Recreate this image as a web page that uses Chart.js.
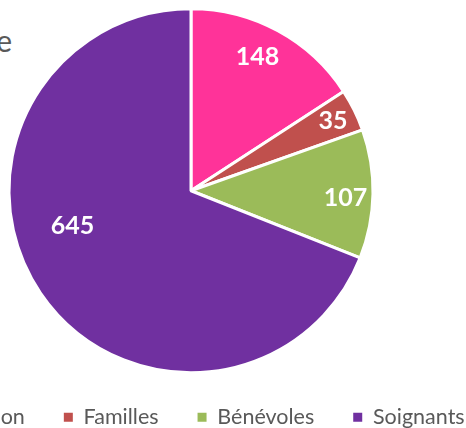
<!DOCTYPE html>
<html>
<head>
<meta charset="utf-8">
<script src="https://cdn.jsdelivr.net/npm/chart.js@4"></script>
<style>
  html, body { margin: 0; padding: 0; background: #fff; overflow: hidden; width: 466px; height: 428px; }
  #wrap { position: absolute; left: -170px; top: 0; width: 722px; height: 438px; }
  #title { position: absolute; right: 454px; top: 22px; font: 30px Lato, sans-serif; color: #595959; white-space: nowrap; }
</style>
</head>
<body>
<div id="title">Répartition par type de personne</div>
<div id="wrap"><canvas id="c" width="722" height="438"></canvas></div>
<script>
const categories = ['Direction', 'Familles', 'Bénévoles', 'Soignants'];
const values = [148, 35, 107, 645];
const colors = ['#FF3399', '#C0504D', '#9BBB59', '#7030A0'];

// label placement (fraction of radius, angle shift in degrees)
const labelPlace = [
  { r: 0.82, da: -2 },
  { r: 0.87, da: 0 },
  { r: 0.85, da: 1.5 },
  { r: 0.68, da: 17.6 }
];

const valueLabels = {
  id: 'valueLabels',
  afterDatasetsDraw(chart) {
    const { ctx } = chart;
    const meta = chart.getDatasetMeta(0);
    ctx.save();
    ctx.font = 'bold 25px Lato, sans-serif';
    ctx.fillStyle = '#ffffff';
    ctx.textAlign = 'center';
    ctx.textBaseline = 'middle';
    meta.data.forEach((arc, i) => {
      const p = arc.getProps(['x', 'y', 'startAngle', 'endAngle', 'outerRadius'], true);
      const mid = (p.startAngle + p.endAngle) / 2 + labelPlace[i].da * Math.PI / 180;
      const rr = p.outerRadius * labelPlace[i].r;
      ctx.fillText(String(chart.data.datasets[0].data[i]), p.x + Math.cos(mid) * rr, p.y + Math.sin(mid) * rr);
    });
    ctx.restore();
  }
};

new Chart(document.getElementById('c'), {
  type: 'pie',
  data: {
    labels: categories,
    datasets: [{
      data: values,
      backgroundColor: colors,
      borderColor: '#ffffff',
      borderWidth: 3
    }]
  },
  options: {
    responsive: false,
    animation: false,
    radius: 182,
    layout: { padding: { top: 14, bottom: 0, left: 0, right: 0 } },
    plugins: {
      tooltip: { enabled: false },
      legend: {
        position: 'bottom',
        labels: {
          boxWidth: 9,
          boxHeight: 9,
          padding: 39,
          color: '#595959',
          font: { family: 'Lato', size: 21.5 },
          generateLabels: (chart) =>
            Chart.overrides.pie.plugins.legend.labels.generateLabels(chart)
              .map(l => Object.assign(l, { lineWidth: 0 }))
        }
      }
    }
  },
  plugins: [valueLabels]
});
</script>
</body>
</html>
